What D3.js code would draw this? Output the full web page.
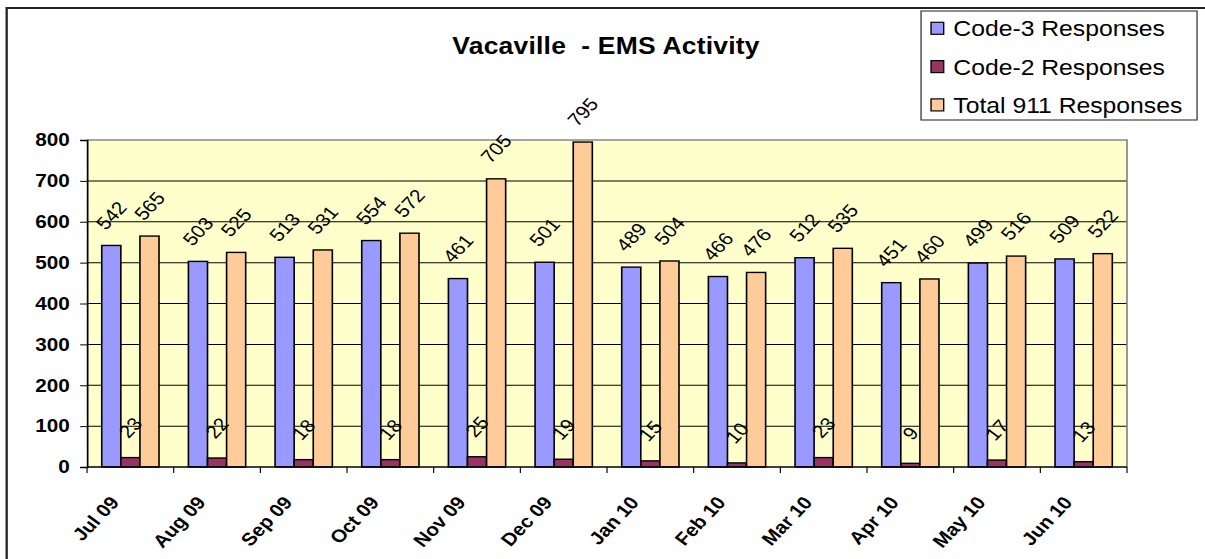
<!DOCTYPE html>
<html>
<head>
<meta charset="utf-8">
<script src="https://cdn.jsdelivr.net/npm/d3@7"></script>
<style>
  html, body { margin: 0; padding: 0; background: #fff; overflow: hidden; }
  text { font-family: "Liberation Sans", Arial, sans-serif; }
</style>
</head>
<body>
<div id="cont"></div>
<script>
// values
var months = ["Jul 09","Aug 09","Sep 09","Oct 09","Nov 09","Dec 09","Jan 10","Feb 10","Mar 10","Apr 10","May 10","Jun 10"];
var code3 = [542,503,513,554,461,501,489,466,512,451,499,509];
var code2 = [23,22,18,18,25,19,15,10,23,9,17,13];
var total911 = [565,525,531,572,705,795,504,476,535,460,516,522];
var seriesNames = ["Code-3 Responses","Code-2 Responses","Total 911 Responses"];
var seriesColors = ["#9999FF","#993366","#FFCC99"];
var yTicks = [0,100,200,300,400,500,600,700,800];

// the original is a bit wider than tall, so draw in a narrower box and stretch it
var stretch = 1.15;
var W = 1205 / stretch, H = 559;
var plot = {left: 75.7, right: 980, top: 140, bottom: 467};

var svg = d3.select("#cont").append("svg")
  .attr("width", 1205)
  .attr("height", 559)
  .attr("viewBox", "0 0 " + W + " " + H)
  .attr("preserveAspectRatio", "none");

// outer chart border
svg.append("rect")
  .attr("x", 5.8).attr("y", 8)
  .attr("width", W + 20).attr("height", H + 20)
  .attr("fill", "#fff").attr("stroke", "#222").attr("stroke-width", 2);

var data = months.map(function(m, i) {
  return {month: m, values: [code3[i], code2[i], total911[i]]};
});

var x0 = d3.scaleBand().domain(months).range([plot.left, plot.right]).paddingInner(0).paddingOuter(0);
var x1 = d3.scaleBand().domain([0,1,2]).range([0, x0.bandwidth()]).paddingInner(0).paddingOuter(0.77);
var y = d3.scaleLinear().domain([0, 800]).range([plot.bottom, plot.top]);

// plot background
svg.append("rect")
  .attr("x", plot.left).attr("y", plot.top)
  .attr("width", plot.right - plot.left).attr("height", plot.bottom - plot.top)
  .attr("fill", "#FFFFCC");

// gridlines
svg.append("g").selectAll("line")
  .data(yTicks.slice(1, -1))
  .enter().append("line")
  .attr("x1", plot.left).attr("x2", plot.right)
  .attr("y1", function(d) { return y(d); }).attr("y2", function(d) { return y(d); })
  .attr("stroke", "#000").attr("stroke-width", 1);

// gray frame top + right
svg.append("path")
  .attr("d", "M" + plot.left + "," + plot.top + "H" + plot.right + "V" + plot.bottom)
  .attr("fill", "none").attr("stroke", "#888").attr("stroke-width", 1.5);

// bars
var group = svg.append("g").selectAll("g")
  .data(data)
  .enter().append("g")
  .attr("transform", function(d) { return "translate(" + x0(d.month) + ",0)"; });

group.selectAll("rect")
  .data(function(d) { return d.values; })
  .enter().append("rect")
  .attr("x", function(d, i) { return x1(i); })
  .attr("y", function(d) { return y(d); })
  .attr("width", x1.bandwidth())
  .attr("height", function(d) { return y(0) - y(d); })
  .attr("fill", function(d, i) { return seriesColors[i]; })
  .attr("stroke", "#000").attr("stroke-width", 1.4);

// rotated value labels (-50 here ends up ~45deg after the stretch)
group.selectAll("text")
  .data(function(d) { return d.values; })
  .enter().append("text")
  .attr("transform", function(d, i) {
    return "translate(" + (x1(i) + x1.bandwidth() / 2) + "," + (y(d) - 30) + ") rotate(-50)";
  })
  .attr("text-anchor", "middle")
  .attr("dy", "0.35em")
  .style("font-size", "18px")
  .text(function(d) { return d; });

// y axis
var yAxis = d3.axisLeft(y).tickValues(yTicks).tickSize(6).tickPadding(9);
var gy = svg.append("g")
  .attr("transform", "translate(" + plot.left + ",0)")
  .call(yAxis);
gy.select(".domain").attr("stroke", "#000").attr("stroke-width", 1.5);
gy.selectAll(".tick line").attr("stroke", "#000");
gy.selectAll(".tick text")
  .style("font-size", "18px").style("font-weight", "bold")
  .attr("fill", "#000").attr("font-family", null);

// x axis: ticks between categories
var gx = svg.append("g")
  .attr("transform", "translate(0," + plot.bottom + ")");
gx.append("line")
  .attr("x1", plot.left).attr("x2", plot.right)
  .attr("stroke", "#000").attr("stroke-width", 1.5);
gx.selectAll(".sep")
  .data(months.concat(["end"]))
  .enter().append("line")
  .attr("class", "sep")
  .attr("x1", function(d, i) { return plot.left + i * x0.step(); })
  .attr("x2", function(d, i) { return plot.left + i * x0.step(); })
  .attr("y1", 0).attr("y2", 6)
  .attr("stroke", "#000");
gx.selectAll(".lab")
  .data(months)
  .enter().append("text")
  .attr("class", "lab")
  .attr("transform", function(d) {
    return "translate(" + (x0(d) + x0.bandwidth() / 2 - 9) + ",36) rotate(-50)";
  })
  .attr("text-anchor", "end")
  .style("font-size", "18px").style("font-weight", "bold")
  .text(function(d) { return d; });

// title
svg.append("text")
  .attr("x", 527).attr("y", 54)
  .attr("text-anchor", "middle")
  .style("font-size", "23px").style("font-weight", "bold")
  .style("white-space", "pre")
  .style("letter-spacing", "0.2px")
  .text("Vacaville  - EMS Activity");

// legend
var legend = svg.append("g");
legend.append("rect")
  .attr("x", 800.9).attr("y", 11)
  .attr("width", 240).attr("height", 109)
  .attr("fill", "#fff").attr("stroke", "#444").attr("stroke-width", 1.2);
var item = legend.selectAll(".item")
  .data(seriesNames)
  .enter().append("g")
  .attr("class", "item")
  .attr("transform", function(d, i) { return "translate(0," + (28.3 + i * 38.3) + ")"; });
item.append("rect")
  .attr("x", 809.6).attr("y", -6)
  .attr("width", 11).attr("height", 12)
  .attr("fill", function(d, i) { return seriesColors[i]; })
  .attr("stroke", "#000").attr("stroke-width", 1.2);
item.append("text")
  .attr("x", 829).attr("y", 8)
  .style("font-size", "21.5px")
  .text(function(d) { return d; });
</script>
</body>
</html>
